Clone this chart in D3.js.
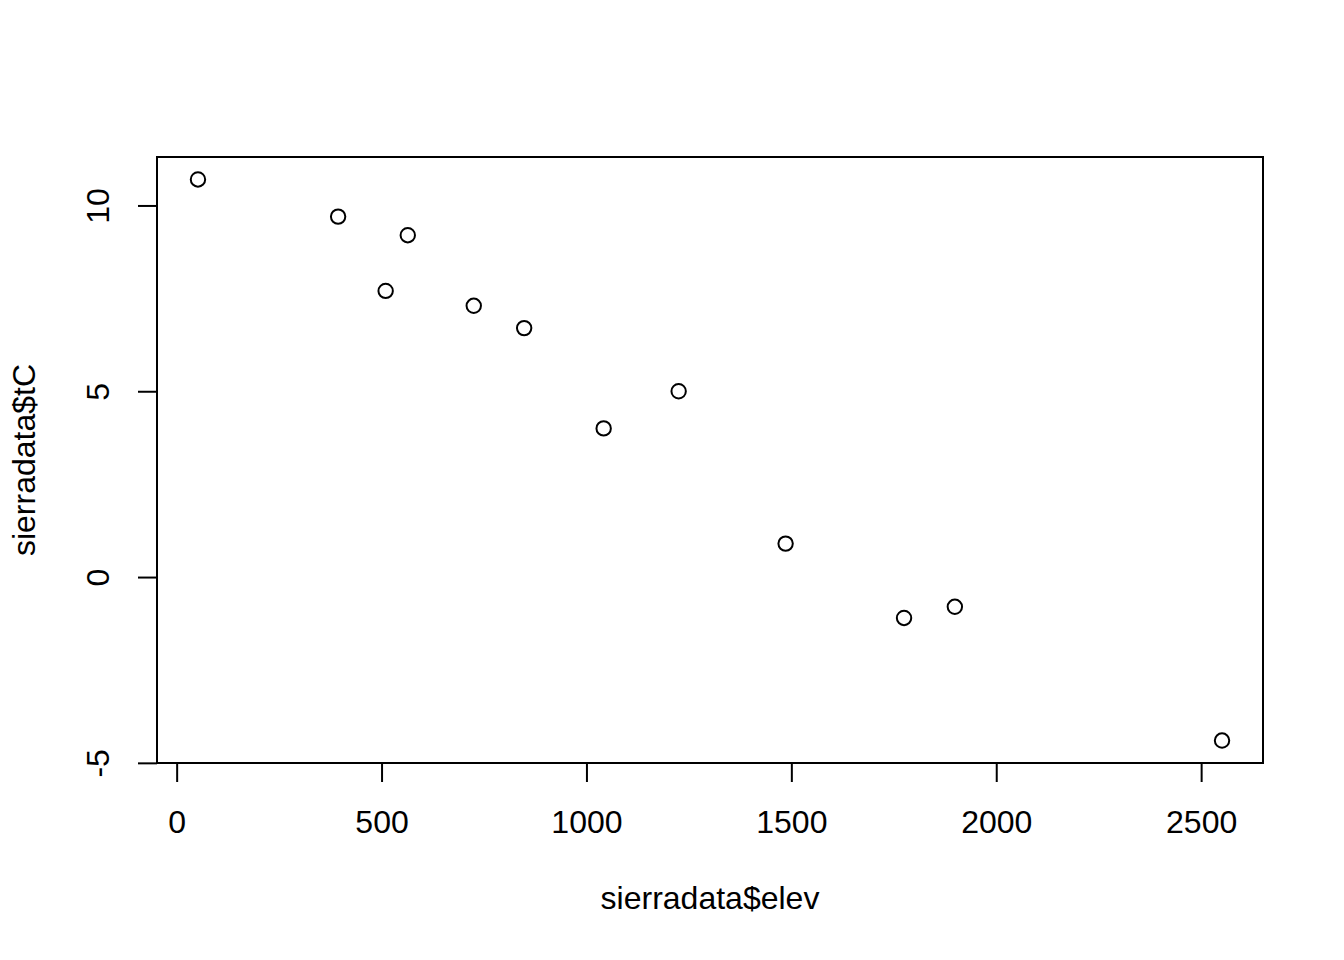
<!DOCTYPE html>
<html>
<head>
<meta charset="utf-8">
<script src="https://cdn.jsdelivr.net/npm/d3@7"></script>
<style>
  body { margin: 0; background: #fff; }
  text { font-family: "Liberation Sans", Arial, sans-serif; font-size: 32px; fill: #000; }
</style>
</head>
<body>
<svg id="chart" width="1344" height="960"></svg>
<script>
// values
var elev = [52, 394, 510, 564, 725, 848, 1042, 1225, 1486, 1775, 1899, 2551];
var tC = [10.7, 9.7, 7.7, 9.2, 7.3, 6.7, 4.0, 5.0, 0.9, -1.1, -0.8, -4.4];
var xTicks = [0, 500, 1000, 1500, 2000, 2500];
var yTicks = [-5, 0, 5, 10];

var svg = d3.select("#chart");
// (window.top is taken, so plot edges get their own names)
var plotL = 157, plotR = 1263, plotT = 157, plotB = 763;

// R pads the data range by 4% each side
function pad(ext) {
    var d = (ext[1] - ext[0]) * 0.04;
    return [ext[0] - d, ext[1] + d];
}

var x = d3.scaleLinear().domain(pad(d3.extent(elev))).range([plotL, plotR]);
var y = d3.scaleLinear().domain(pad(d3.extent(tC))).range([plotB, plotT]);

// box
svg.append("rect")
    .attr("x", plotL).attr("y", plotT)
    .attr("width", plotR - plotL).attr("height", plotB - plotT)
    .attr("fill", "none").attr("stroke", "#000").attr("stroke-width", 2);

// x axis
var xa = svg.append("g").attr("transform", "translate(0," + plotB + ")");
xa.call(d3.axisBottom(x).tickValues(xTicks).tickSize(19).tickSizeOuter(0).tickFormat(d3.format("d")));
xa.select(".domain").attr("d", "M" + x(xTicks[0]) + ",0H" + x(xTicks[xTicks.length - 1]));
xa.selectAll("line, path").attr("stroke", "#000").attr("stroke-width", 2);
xa.selectAll("text").attr("dy", null).attr("y", 70).attr("font-size", null).attr("font-family", null);

// y axis (plain hyphen for negatives, like R)
var ya = svg.append("g").attr("transform", "translate(" + plotL + ",0)");
ya.call(d3.axisLeft(y).tickValues(yTicks).tickSize(19).tickSizeOuter(0)
    .tickFormat(function (d) { return String(d); }));
ya.select(".domain").attr("d", "M0," + y(yTicks[0]) + "V" + y(yTicks[yTicks.length - 1]));
ya.selectAll("line, path").attr("stroke", "#000").attr("stroke-width", 2);
ya.selectAll("text")
    .attr("x", null).attr("dy", null).attr("font-size", null).attr("font-family", null)
    .attr("text-anchor", "middle")
    .attr("transform", "translate(-48,0) rotate(-90)");

// points
svg.append("g").selectAll("circle")
    .data(elev)
    .enter().append("circle")
    .attr("cx", function (d) { return x(d); })
    .attr("cy", function (d, i) { return y(tC[i]); })
    .attr("r", 7.2)
    .attr("fill", "none")
    .attr("stroke", "#000")
    .attr("stroke-width", 2);

// axis titles
svg.append("text")
    .attr("x", (plotL + plotR) / 2).attr("y", 909)
    .attr("text-anchor", "middle")
    .text("sierradata$elev");

svg.append("text")
    .attr("transform", "translate(35," + (plotT + plotB) / 2 + ") rotate(-90)")
    .attr("text-anchor", "middle")
    .text("sierradata$tC");
</script>
</body>
</html>
